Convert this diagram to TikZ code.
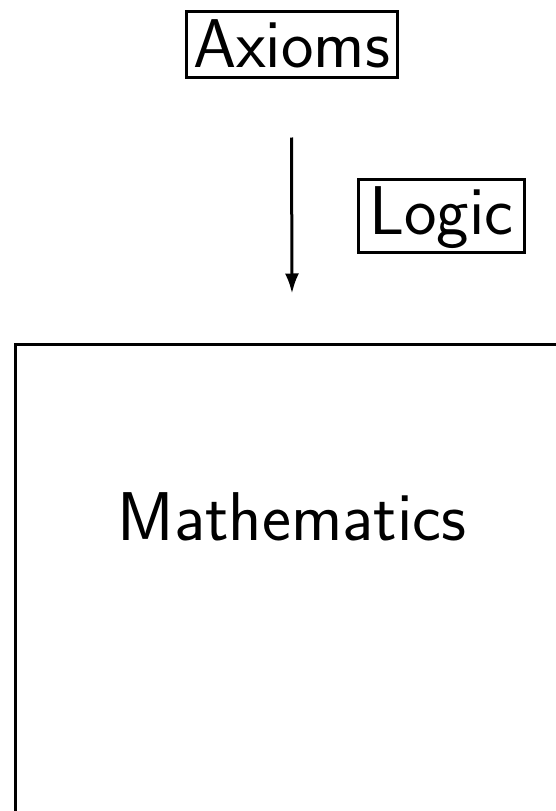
\documentclass[tikz,border=0pt]{standalone}
\usepackage{tikz}
\usetikzlibrary{arrows.meta,positioning}
\begin{document}
\begin{tikzpicture}[>={Latex[length=20pt,width=14pt]},line width=3pt,
  font=\sffamily\fontsize{69}{80}\selectfont]
\tikzstyle{box}=[draw,inner sep=3pt,text height=52pt,text depth=15pt]
\useasboundingbox (0,0) rectangle (555pt,-811pt);
\node[box,anchor=base,text height=53pt,text depth=7pt,minimum width=211pt] (axioms) at (291.5pt,-67pt) {Axioms};
\node[draw,anchor=base,minimum width=554pt,inner ysep=0pt,
  text height=196pt,text depth=400pt] (math) at (292pt,-540pt) {Mathematics};
\draw[->] ([yshift=-59pt]axioms.south) -- ([yshift=49pt]math.north)
  node[box,midway,right=65pt,minimum width=166pt] (logic) {Logic};
\end{tikzpicture}
\end{document}
